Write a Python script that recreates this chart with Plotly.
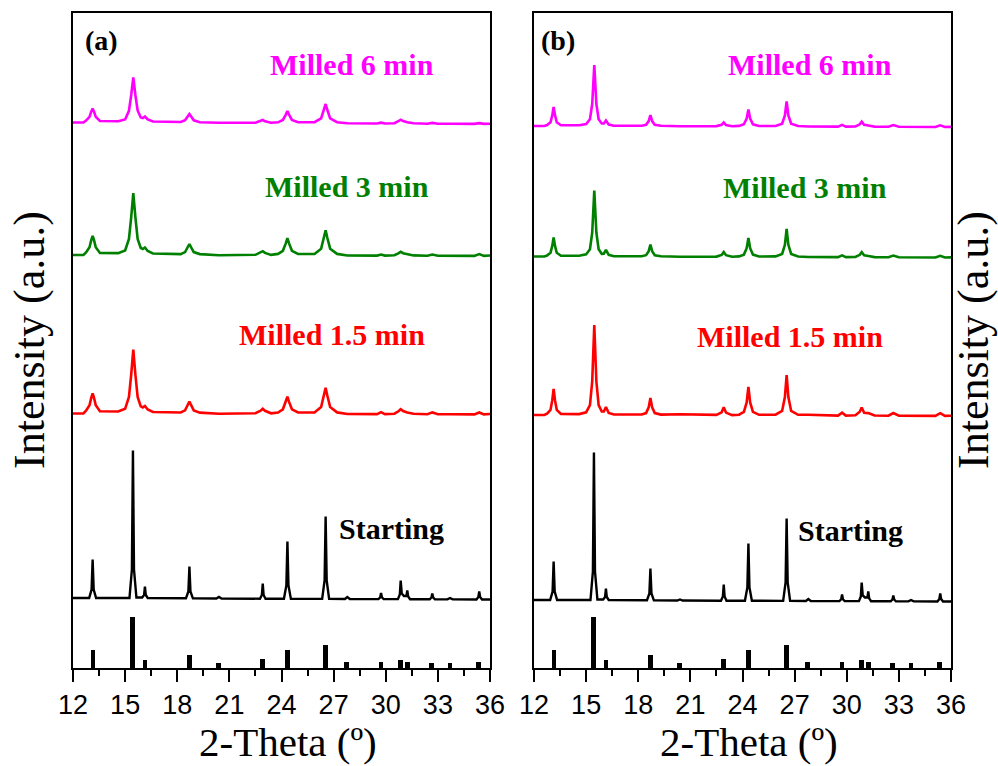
import plotly.graph_objects as go

# ---- diffraction data (2-theta in degrees, intensity in arbitrary units) ----
black_x = [12.0,
           12.93, 13.07, 13.13, 13.19, 13.33,
           15.25, 15.39, 15.45, 15.51, 15.65,
           15.98, 16.09, 16.14, 16.19, 16.30,
           18.50, 18.64, 18.70, 18.76, 18.90,
           20.25, 20.40, 20.55,
           22.76, 22.87, 22.92, 22.97, 23.08,
           24.14, 24.28, 24.34, 24.40, 24.54,
           26.34, 26.48, 26.54, 26.60, 26.74,
           27.65, 27.79, 27.93,
           29.58, 29.68, 29.73, 29.78, 29.88,
           30.70, 30.81, 30.86, 30.92, 31.05, 31.19, 31.24, 31.29, 31.40,
           32.53, 32.63, 32.68, 32.73, 32.83,
           33.55, 33.70, 33.85,
           35.22, 35.33, 35.38, 35.43, 35.54,
           36.0]

start_a_y = [1.5,
             1.5, 10, 40, 10, 1.5,
             1.5, 30, 149, 30, 2,
             2, 4.5, 13, 4.5, 1.5,
             1.2, 8, 33, 8, 1.2,
             1, 2.5, 1,
             0.8, 4.5, 16, 4.5, 0.8,
             0.8, 14, 58, 14, 0.8,
             0.6, 19, 83, 19, 0.6,
             0.5, 2.5, 0.5,
             0.4, 2, 6.5, 2, 0.4,
             0.4, 5, 19, 6, 3.5, 3.5, 9, 3, 0.3,
             0.2, 2, 6, 2, 0.2,
             0.1, 1.5, 0.1,
             0, 2.5, 8, 2.5, 0,
             0]

start_b_y = [1.5,
             1.5, 10, 40, 10, 1.5,
             1.5, 30, 149, 30, 2,
             2, 4.5, 13, 4.5, 1.5,
             1.2, 8, 33, 8, 1.2,
             1, 2, 1,
             0.8, 5, 17, 5, 0.8,
             0.8, 14, 58, 14, 0.8,
             0.6, 19, 83, 19, 0.6,
             0.5, 2.5, 0.5,
             0.4, 2.2, 7, 2.2, 0.4,
             0.4, 5, 19, 6, 4, 4, 10, 3.2, 0.3,
             0.2, 2, 6, 2, 0.2,
             0.1, 1.5, 0.1,
             0, 2.5, 8, 2.5, 0,
             0]

milled_x = [12.0, 12.6,
            12.75, 12.95, 13.05, 13.13, 13.21, 13.31, 13.55,
            14.6, 15.0, 15.22, 15.35, 15.47, 15.59, 15.72, 15.9,
            16.02, 16.14, 16.3, 16.6,
            18.2, 18.45, 18.6, 18.7, 18.8, 18.95, 19.3,
            20.4,
            22.5, 22.8, 22.92, 23.05, 23.4,
            23.8, 24.08, 24.24, 24.34, 24.44, 24.6, 24.95,
            25.9, 26.28, 26.44, 26.54, 26.64, 26.8, 27.2,
            27.79,
            29.5, 29.73, 29.95,
            30.5, 30.75, 30.86, 31.0, 31.24, 31.6,
            32.4, 32.68, 33.0,
            33.7,
            35.1, 35.38, 35.65,
            36.0]

red_a_y = [1.5, 1.6,
           4.3, 9.7, 17.1, 21.5, 17.1, 9.7, 3.7,
           3.5, 6.2, 18.1, 40.5, 65.5, 40.5, 18.1, 8.7,
           7.6, 9.0, 5.5, 3.0,
           2.5, 4.6, 9.8, 13.5, 9.8, 4.6, 2.4,
           1.3,
           1.8, 4.3, 6.3, 4.2, 1.7,
           2.5, 5.7, 12.9, 18.3, 12.9, 5.7, 2.5,
           2.6, 8.0, 19.2, 27.3, 19.2, 8.0, 2.6,
           1.0,
           0.9, 2.8, 0.9,
           1.3, 4.0, 5.8, 3.9, 2.5, 1.2,
           0.8, 2.6, 0.8,
           0.7,
           0.6, 2.5, 0.6,
           1.0]

green_a_y = [1.5, 1.5,
             4.1, 9.3, 16.3, 20.5, 16.3, 9.3, 3.6,
             3.4, 6.0, 17.6, 39.3, 63.5, 39.3, 17.6, 8.5,
             7.5, 9.0, 5.5, 3.0,
             2.4, 4.4, 9.1, 12.5, 9.1, 4.4, 2.4,
             1.3,
             1.7, 3.7, 5.3, 3.6, 1.6,
             2.6, 5.7, 12.9, 18.3, 12.9, 5.7, 2.5,
             2.6, 7.8, 18.5, 26.3, 18.5, 7.8, 2.6,
             1.0,
             0.9, 1.9, 0.9,
             1.3, 3.4, 4.8, 3.3, 2.2, 1.1,
             0.8, 2.0, 0.8,
             0.7,
             0.6, 2.4, 0.6,
             1.0]

magenta_a_y = [2.0, 2.0,
               3.9, 7.7, 12.9, 16.0, 12.9, 7.7, 3.5,
               3.3, 5.0, 13.7, 29.5, 47.0, 29.5, 14.0, 7.0,
               6.5, 8.0, 5.0, 3.0,
               2.5, 4.2, 8.0, 10.5, 8.0, 4.2, 2.3,
               1.7,
               1.8, 3.3, 4.5, 3.2, 1.8,
               2.2, 4.6, 9.7, 13.5, 9.7, 4.6, 2.2,
               2.3, 6.2, 14.5, 20.5, 14.5, 6.2, 2.3,
               1.2,
               1.0, 1.8, 1.0,
               1.3, 3.5, 4.8, 3.4, 2.2, 1.2,
               0.8, 1.6, 0.8,
               0.8,
               0.6, 1.4, 0.6,
               0.8]

red_b_y = [1.5, 1.5,
           2.9, 6.7, 16.1, 27.5, 16.1, 6.7, 2.5,
           2.4, 4.2, 11.4, 35.0, 91.5, 35.0, 11.4, 5.0,
           5.0, 9.5, 3.5, 2.0,
           2.0, 3.4, 9.1, 18.5, 9.1, 3.4, 1.9,
           2.2,
           1.6, 4.2, 9.3, 3.9, 1.4,
           1.8, 4.6, 14.1, 29.5, 14.1, 4.6, 1.7,
           1.8, 5.6, 19.5, 41.5, 19.5, 5.6, 1.7,
           1.8,
           0.9, 3.8, 0.9,
           1.2, 4.8, 9.0, 3.8, 3.4, 1.0,
           0.8, 3.5, 0.8,
           0.7,
           0.6, 3.3, 0.6,
           0.8]

green_b_y = [1.5, 1.5,
             2.5, 5.3, 12.1, 20.5, 12.1, 5.3, 2.3,
             2.3, 3.6, 8.8, 25.3, 67.5, 25.3, 8.8, 4.2,
             4.3, 8.2, 3.2, 1.8,
             1.8, 2.8, 6.9, 13.5, 6.9, 2.8, 1.7,
             1.2,
             1.4, 3.0, 6.0, 2.8, 1.3,
             1.6, 3.4, 9.8, 20.0, 9.8, 3.4, 1.5,
             1.6, 4.1, 13.2, 29.0, 13.2, 4.1, 1.5,
             1.0,
             0.9, 2.6, 0.9,
             1.0, 3.2, 5.8, 2.6, 2.0, 0.9,
             0.7, 2.4, 0.7,
             0.6,
             0.5, 2.2, 0.5,
             0.6]

magenta_b_y = [1.5, 1.5,
               2.5, 5.3, 12.1, 20.5, 12.1, 5.3, 2.3,
               2.2, 3.5, 8.2, 23.5, 62.5, 23.5, 8.2, 4.0,
               4.0, 7.0, 3.0, 1.8,
               1.8, 2.7, 6.4, 12.5, 6.4, 2.7, 1.7,
               1.2,
               1.4, 2.7, 5.1, 2.5, 1.3,
               1.6, 3.2, 8.9, 18.1, 8.9, 3.2, 1.5,
               1.5, 3.8, 12.0, 26.0, 12.0, 3.8, 1.5,
               1.0,
               0.9, 2.6, 0.9,
               1.0, 3.2, 5.8, 2.6, 2.0, 0.9,
               0.7, 2.4, 0.7,
               0.6,
               0.5, 2.2, 0.5,
               0.6]

# reference pattern (stick positions and relative intensities)
ref_x = [13.15, 15.43, 16.14, 18.68, 20.37, 22.92, 24.34, 26.54,
         27.75, 29.73, 30.86, 31.24, 32.64, 33.70, 35.36]
ref_h = [18, 51, 8, 13, 5, 9, 18, 23, 6, 6, 8, 6, 5, 5, 6]

x_ticks = [12, 15, 18, 21, 24, 27, 30, 33, 36]

# vertical stacking offsets of each pattern
OFFSETS = {
    "a": {"start": 68.5, "red": 253.0, "green": 411.5, "magenta": 543.5},
    "b": {"start": 66.5, "red": 251.5, "green": 410.0, "magenta": 540.5},
}

COLORS = {"start": "#000000", "red": "#FF0000", "green": "#008000", "magenta": "#FF00FF"}

panels = {
    "a": {"xa": "x", "ya": "y",
          "series": {"start": (black_x, start_a_y), "red": (milled_x, red_a_y),
                     "green": (milled_x, green_a_y), "magenta": (milled_x, magenta_a_y)}},
    "b": {"xa": "x2", "ya": "y2",
          "series": {"start": (black_x, start_b_y), "red": (milled_x, red_b_y),
                     "green": (milled_x, green_b_y), "magenta": (milled_x, magenta_b_y)}},
}

fig = go.Figure()

for key, p in panels.items():
    fig.add_trace(go.Bar(x=ref_x, y=ref_h, base=0, width=0.28,
                         marker=dict(color="black", line=dict(width=0)),
                         xaxis=p["xa"], yaxis=p["ya"], showlegend=False))
    for name, (xs, ys) in p["series"].items():
        off = OFFSETS[key][name]
        fig.add_trace(go.Scatter(
            x=xs, y=[v + off for v in ys], mode="lines",
            line=dict(color=COLORS[name], width=2.4 if name == "start" else 2.6,
                      shape="linear"),
            xaxis=p["xa"], yaxis=p["ya"], showlegend=False, hoverinfo="skip"))

W, H = 998, 766
xdom_a = [73 / W, 490 / W]
xdom_b = [534 / W, 951 / W]
ydom = [1 - 668 / H, 1 - 13 / H]

xaxis_common = dict(
    range=[12, 36], tickvals=x_ticks, ticktext=[str(t) for t in x_ticks],
    ticks="outside", ticklen=12, tickwidth=2, tickcolor="black",
    minor=dict(dtick=1.5, tick0=12, ticks="outside", ticklen=6, tickwidth=2, tickcolor="black"),
    showline=True, linewidth=2, linecolor="black", mirror=True,
    showgrid=False, zeroline=False, automargin=False,
    tickfont=dict(family="Liberation Sans, Arial, sans-serif", size=27, color="black"),
)
yaxis_common = dict(
    range=[0, 655], showticklabels=False, ticks="",
    showline=True, linewidth=2, linecolor="black", mirror=True,
    showgrid=False, zeroline=False, automargin=False,
)

fig.update_layout(
    width=W, height=H, autosize=False,
    margin=dict(l=0, r=0, t=0, b=0, pad=0, autoexpand=False),
    paper_bgcolor="white", plot_bgcolor="white",
    bargap=0,
    xaxis=dict(domain=xdom_a, anchor="y", **xaxis_common),
    yaxis=dict(domain=ydom, anchor="x", **yaxis_common),
    xaxis2=dict(domain=xdom_b, anchor="y2", **xaxis_common),
    yaxis2=dict(domain=ydom, anchor="x2", **yaxis_common),
)

serif = "Liberation Serif, Times New Roman, serif"

def label(text, x, y, color, xref, yref, xanchor="center", size=30):
    fig.add_annotation(text="<b>" + text + "</b>", x=x, y=y, xref=xref, yref=yref,
                       xanchor=xanchor, yanchor="middle", showarrow=False,
                       font=dict(family=serif, size=size, color=color))

# curve labels, panel (a)
label("Milled 6 min", 28.06, 604, COLORS["magenta"], "x", "y")
label("Milled 3 min", 27.77, 482, COLORS["green"], "x", "y")
label("Milled 1.5 min", 26.91, 334, COLORS["red"], "x", "y")
label("Starting", 27.19, 140, "black", "x", "y", xanchor="left", size=30)
label("(a)", 12.55, 628, "black", "x", "y", xanchor="left", size=28)

# curve labels, panel (b)
label("Milled 6 min", 27.88, 604, COLORS["magenta"], "x2", "y2")
label("Milled 3 min", 27.59, 481, COLORS["green"], "x2", "y2")
label("Milled 1.5 min", 26.73, 332, COLORS["red"], "x2", "y2")
label("Starting", 27.08, 138, "black", "x2", "y2", xanchor="left", size=30)
label("(b)", 12.3, 628, "black", "x2", "y2", xanchor="left", size=28)

# axis titles
for cx in [(xdom_a[0] + xdom_a[1]) / 2, (xdom_b[0] + xdom_b[1]) / 2]:
    fig.add_annotation(text="2-Theta (º)", x=cx + 6 / W, y=1 - 742 / H, xref="paper", yref="paper",
                       xanchor="center", yanchor="middle", showarrow=False,
                       font=dict(family=serif, size=41, color="black"))
for cx in [29 / W, 973 / W]:
    fig.add_annotation(text="Intensity (a.u.)", x=cx, y=1 - 340 / H, xref="paper", yref="paper",
                       xanchor="center", yanchor="middle", textangle=-90, showarrow=False,
                       font=dict(family=serif, size=44, color="black"))

fig.write_html("out.html")
